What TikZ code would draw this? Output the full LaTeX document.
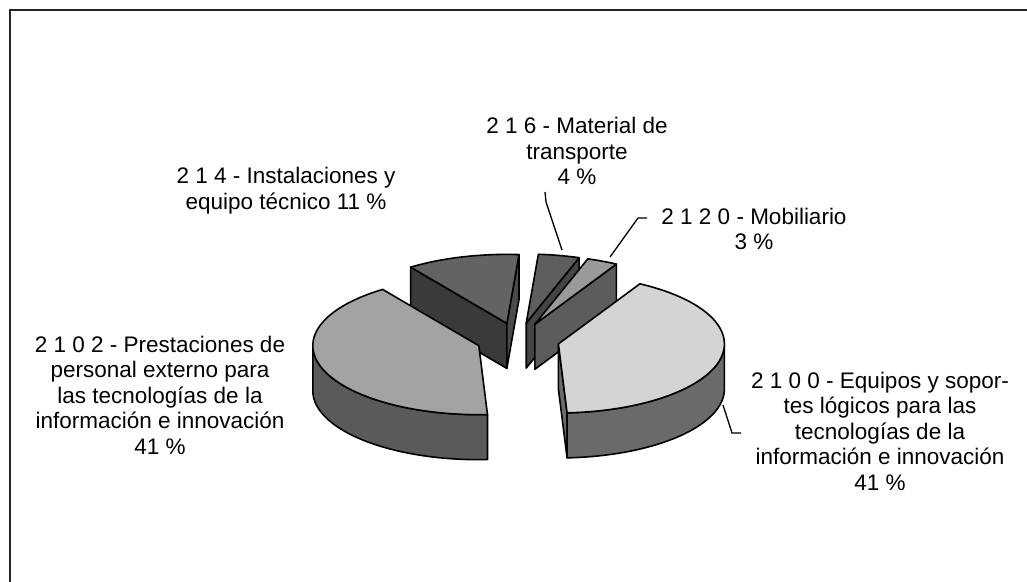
\documentclass[tikz,border=0pt]{standalone}
\usepackage{fontspec}
\setmainfont{Liberation Sans}
\newcommand{\SetSlice}[3]{%
  \pgfmathsetmacro\sMid{(#1+#2)/2}%
  \pgfmathsetmacro\ox{518+#3*166*cos(\sMid)}%
  \pgfmathsetmacro\oy{340-#3*69*sin(\sMid)}}
\newcommand{\TopFace}[3]{%
  \filldraw[pieedge, fill=#3] (\ox,\oy) -- plot[domain=#1:#2, samples=60] ({\ox+166*cos(\x)},{\oy-69*sin(\x)}) -- cycle;}
\newcommand{\SideFace}[3]{%
  \filldraw[pieedge, fill=#3] plot[domain=#1:#2, samples=60] ({\ox+166*cos(\x)},{\oy-69*sin(\x)}) -- plot[domain=#2:#1, samples=60] ({\ox+166*cos(\x)},{\oy+45-69*sin(\x)}) -- cycle;}
\newcommand{\RadFace}[2]{%
  \filldraw[pieedge, fill=#2] (\ox,\oy) -- ({\ox+166*cos(#1)},{\oy-69*sin(#1)}) -- ++(0,45) -- (\ox,{\oy+45}) -- cycle;}
\definecolor{cTopL}{HTML}{A3A3A3}
\definecolor{cSideL}{HTML}{5A5A5A}
\definecolor{cTopR}{HTML}{D4D4D4}
\definecolor{cSideR}{HTML}{6A6A6A}
\definecolor{cTopI}{HTML}{636363}
\definecolor{cFaceIa}{HTML}{3A3A3A}
\definecolor{cFaceIb}{HTML}{4A4A4A}
\definecolor{cTopT}{HTML}{5E5E5E}
\definecolor{cFaceT}{HTML}{454545}
\definecolor{cTopM}{HTML}{9A9A9A}
\definecolor{cFaceM}{HTML}{5C5C5C}
\begin{document}
\begin{tikzpicture}[x=1pt,y=-1pt,
  pieedge/.style={draw=black, line width=1.6pt, line join=round},
  leader/.style={draw=black, line width=1.3pt},
  lbl/.style={align=center, font=\fontsize{22.5}{25.5}\selectfont, inner sep=0pt}]
\useasboundingbox (0,0) rectangle (1027,581);
\draw[line width=1.8pt, black!85] (10.2,585) -- (10.2,10.2) -- (1030,10.2);

% 214 - Instalaciones
\SetSlice{85.8}{125.4}{0.25}
\RadFace{125.4}{cFaceIa}
\RadFace{85.8}{cFaceIb}
\TopFace{85.8}{125.4}{cTopI}
% 216 - Material de transporte
\SetSlice{71.4}{85.8}{0.25}
\RadFace{71.4}{cFaceT}
\TopFace{71.4}{85.8}{cTopT}
% 2120 - Mobiliario
\SetSlice{60.6}{71.4}{0.25}
\RadFace{60.6}{cFaceM}
\TopFace{60.6}{71.4}{cTopM}
% 2102 - left
\SetSlice{125.4}{273}{0.25}
\SideFace{180}{273}{cSideL}
\TopFace{125.4}{273}{cTopL}
% 2100 - right
\SetSlice{273}{420.6}{0.25}
\RadFace{273}{cSideR}
\SideFace{273}{360}{cSideR}
\TopFace{273}{420.6}{cTopR}

% labels
\node[lbl] (lab216) at (577,151) {2 1 6 - Material de\\transporte\\4 \%};
\node[lbl] (lab2120) at (754,229) {2 1 2 0 - Mobiliario\\3 \%};
\node[lbl] (lab214) at (286,190.5) {2 1 4 - Instalaciones y\\equipo técnico 11 \%};
\node[lbl] (lab2102) at (160,395) {2 1 0 2 - Prestaciones de\\personal externo para\\las tecnologías de la\\información e innovación\\41 \%};
\node[lbl] (lab2100) at (880,431) {2 1 0 0 - Equipos y sopor-\\tes lógicos para las\\tecnologías de la\\información e innovación\\41 \%};

% leaders
\coordinate (a216) at (545,192);
\coordinate (b216) at (546,202);
\coordinate (c216) at (562,250);
\coordinate (a2120) at (647,218);
\coordinate (b2120) at (638,218);
\coordinate (c2120) at (610,257);
\coordinate (a2100) at (741,433);
\coordinate (b2100) at (732,433);
\coordinate (c2100) at (723,405);
\draw[leader] (a216) -- (b216) -- (c216);
\draw[leader] (a2120) -- (b2120) -- (c2120);
\draw[leader] (a2100) -- (b2100) -- (c2100);
\end{tikzpicture}
\end{document}
